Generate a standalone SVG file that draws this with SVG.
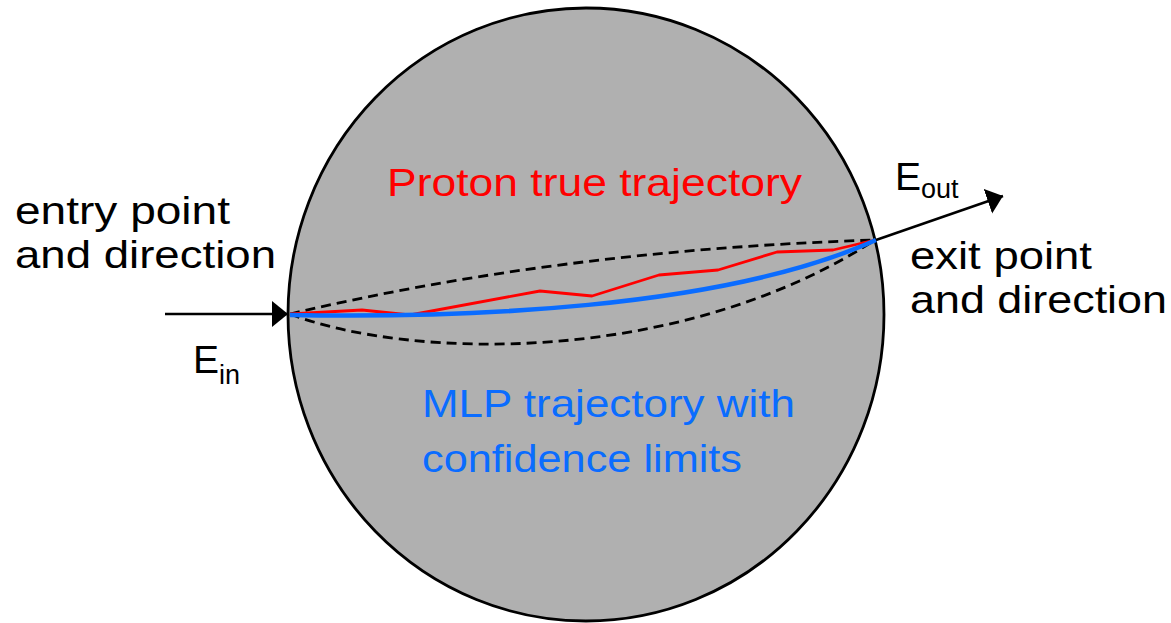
<svg xmlns="http://www.w3.org/2000/svg" width="1171" height="623" viewBox="0 0 1171 623">
<style>
text{font-family:"Liberation Sans",Arial,sans-serif;font-size:39px;}
.blk{fill:#000;}
.red{fill:#ff0000;}
.blue{fill:#0a6cff;}
.dash{fill:none;stroke:#000;stroke-width:2.8;stroke-dasharray:10 6;}
.arrow{fill:none;stroke:#000;stroke-width:2.5;}
</style>
<defs>
<marker id="ah" markerUnits="userSpaceOnUse" markerWidth="18" markerHeight="28" refX="16" refY="13" orient="auto">
<path d="M0,0 L16,13 L0,26 Z" fill="#000"/>
</marker>
</defs>
<rect width="1171" height="623" fill="#fff"/>
<g id="body">
<ellipse cx="586" cy="314.5" rx="298" ry="306.5" fill="#b0b0b0" stroke="#000" stroke-width="2.8"/>
</g>
<g id="connectors">
<path class="dash" d="M290,314 Q560,250 875,240"/>
<path class="dash" d="M290,314 C410,360 680,366 875,240"/>
<polyline fill="none" stroke="#ff0000" stroke-width="2.8" stroke-linejoin="round" points="290,314 362,310 410,315 540,291 592,296 659,275 718,270 777,252 833,250 875,240"/>
<path fill="none" stroke="#0a6cff" stroke-width="4.5" d="M290,315 C460,318 720,310 876,240"/>
<line class="arrow" x1="165" y1="314" x2="288" y2="314" marker-end="url(#ah)"/>
<line class="arrow" x1="876" y1="240" x2="1003" y2="196" marker-end="url(#ah)"/>
</g>
<g id="label-proton">
<text class="red" x="387" y="196" textLength="415" lengthAdjust="spacingAndGlyphs">Proton true trajectory</text>
</g>
<g id="label-entry">
<text class="blk" x="15" y="224" textLength="215" lengthAdjust="spacingAndGlyphs">entry point</text>
<text class="blk" x="15" y="268" textLength="261" lengthAdjust="spacingAndGlyphs">and direction</text>
</g>
<g id="label-ein">
<text class="blk" x="193" y="373">E<tspan font-size="27" dy="11">in</tspan></text>
</g>
<g id="label-eout">
<text class="blk" x="895" y="190">E<tspan font-size="27" dy="8">out</tspan></text>
</g>
<g id="label-exit">
<text class="blk" x="910" y="269" textLength="182" lengthAdjust="spacingAndGlyphs">exit point</text>
<text class="blk" x="910" y="313" textLength="257" lengthAdjust="spacingAndGlyphs">and direction</text>
</g>
<g id="label-mlp">
<text class="blue" x="422" y="417" textLength="373" lengthAdjust="spacingAndGlyphs">MLP trajectory with</text>
<text class="blue" x="422" y="472" textLength="320" lengthAdjust="spacingAndGlyphs">confidence limits</text>
</g>
</svg>
